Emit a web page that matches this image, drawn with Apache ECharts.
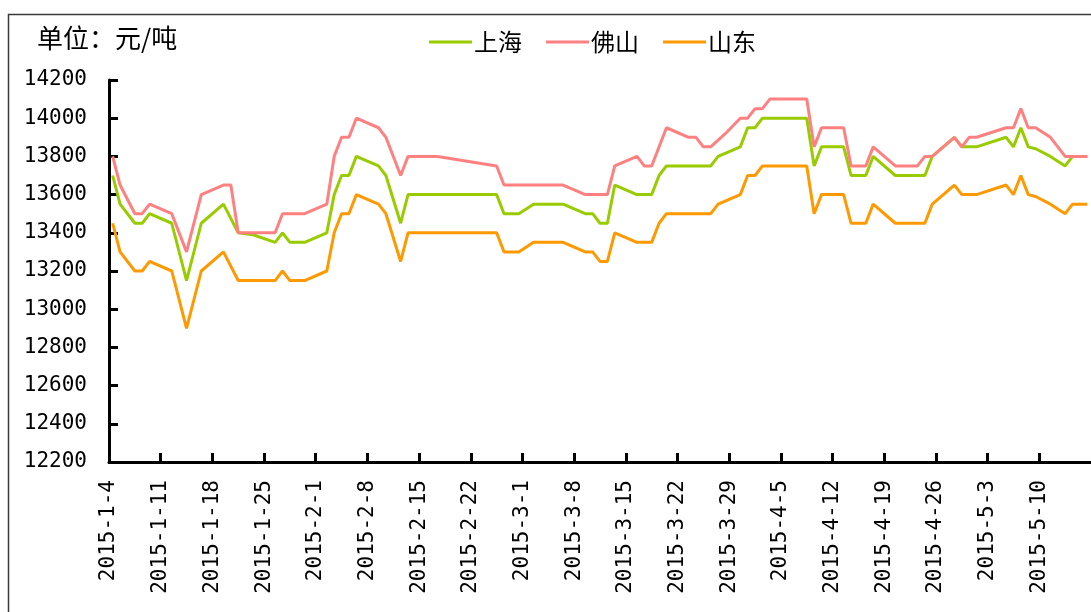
<!DOCTYPE html>
<html>
<head>
<meta charset="utf-8">
<script src="https://cdn.jsdelivr.net/npm/echarts@6/dist/echarts.min.js"></script>
<style>
html,body{margin:0;padding:0;background:#fff;}
#chart{width:1091px;height:612px;}
</style>
</head>
<body>
<div id="chart"></div>
<script>
const seriesNames = ['上海', '佛山', '山东'];
const seriesColors = ['#99CC00', '#FF8080', '#FF9900'];
const unitText = '单位：元/吨';
const yMin = 12200, yMax = 14200, yStep = 200;
const axisStart = '2015-1-4';
const axisEnd = '2015-5-17';

const shanghaiDates = ['2015-1-4','2015-1-5','2015-1-7','2015-1-8','2015-1-9','2015-1-12','2015-1-14','2015-1-16','2015-1-19','2015-1-21',
  '2015-1-23','2015-1-26','2015-1-27','2015-1-28','2015-1-30','2015-2-2','2015-2-3','2015-2-4','2015-2-5','2015-2-6',
  '2015-2-9','2015-2-10','2015-2-12','2015-2-13','2015-2-25','2015-2-26','2015-2-28','2015-3-2','2015-3-6','2015-3-9',
  '2015-3-10','2015-3-11','2015-3-12','2015-3-13','2015-3-16','2015-3-18','2015-3-19','2015-3-20','2015-3-26','2015-3-27',
  '2015-3-30','2015-3-31','2015-4-1','2015-4-2','2015-4-8','2015-4-9','2015-4-10','2015-4-13','2015-4-14','2015-4-16',
  '2015-4-17','2015-4-20','2015-4-24','2015-4-25','2015-4-28','2015-4-29','2015-5-1','2015-5-5','2015-5-6','2015-5-7',
  '2015-5-8','2015-5-9','2015-5-11','2015-5-13','2015-5-14','2015-5-16'];
const shanghaiPrices = [13700,13550,13450,13450,13500,13450,13150,13450,13550,13400,
  13390,13350,13400,13350,13350,13400,13600,13700,13700,13800,
  13750,13700,13450,13600,13600,13500,13500,13550,13550,13500,
  13500,13450,13450,13650,13600,13600,13700,13750,13750,13800,
  13850,13950,13950,14000,14000,13750,13850,13850,13700,13700,
  13800,13700,13700,13800,13900,13850,13850,13900,13850,13950,
  13850,13840,13800,13750,13800,13800];

const foshanDates = ['2015-1-4','2015-1-5','2015-1-7','2015-1-8','2015-1-9','2015-1-12','2015-1-14','2015-1-16','2015-1-19','2015-1-20',
  '2015-1-21','2015-1-26','2015-1-27','2015-1-30','2015-2-2','2015-2-3','2015-2-4','2015-2-5','2015-2-6','2015-2-9',
  '2015-2-10','2015-2-12','2015-2-13','2015-2-17','2015-2-25','2015-2-26','2015-3-6','2015-3-9','2015-3-12','2015-3-13',
  '2015-3-16','2015-3-17','2015-3-18','2015-3-20','2015-3-23','2015-3-24','2015-3-25','2015-3-26','2015-3-28','2015-3-30',
  '2015-3-31','2015-4-1','2015-4-2','2015-4-3','2015-4-8','2015-4-9','2015-4-10','2015-4-13','2015-4-14','2015-4-16',
  '2015-4-17','2015-4-20','2015-4-23','2015-4-24','2015-4-25','2015-4-28','2015-4-29','2015-4-30','2015-5-1','2015-5-5',
  '2015-5-6','2015-5-7','2015-5-8','2015-5-9','2015-5-11','2015-5-13','2015-5-16'];
const foshanPrices = [13800,13650,13500,13500,13550,13500,13300,13600,13650,13650,
  13400,13400,13500,13500,13550,13800,13900,13900,14000,13950,
  13900,13700,13800,13800,13750,13650,13650,13600,13600,13750,
  13800,13750,13750,13950,13900,13900,13850,13850,13920,14000,
  14000,14050,14050,14100,14100,13850,13950,13950,13750,13750,
  13850,13750,13750,13800,13800,13900,13850,13900,13900,13950,
  13950,14050,13950,13950,13900,13800,13800];

const shandongDates = ['2015-1-4','2015-1-5','2015-1-7','2015-1-8','2015-1-9','2015-1-12','2015-1-14','2015-1-16','2015-1-19','2015-1-21',
  '2015-1-26','2015-1-27','2015-1-28','2015-1-30','2015-2-2','2015-2-3','2015-2-4','2015-2-5','2015-2-6','2015-2-9',
  '2015-2-10','2015-2-12','2015-2-13','2015-2-25','2015-2-26','2015-2-28','2015-3-2','2015-3-6','2015-3-9','2015-3-10',
  '2015-3-11','2015-3-12','2015-3-13','2015-3-16','2015-3-18','2015-3-19','2015-3-20','2015-3-26','2015-3-27','2015-3-30',
  '2015-3-31','2015-4-1','2015-4-2','2015-4-8','2015-4-9','2015-4-10','2015-4-13','2015-4-14','2015-4-16','2015-4-17',
  '2015-4-20','2015-4-24','2015-4-25','2015-4-28','2015-4-29','2015-5-1','2015-5-5','2015-5-6','2015-5-7','2015-5-8',
  '2015-5-9','2015-5-11','2015-5-13','2015-5-14','2015-5-16'];
const shandongPrices = [13450,13300,13200,13200,13250,13200,12900,13200,13300,13150,
  13150,13200,13150,13150,13200,13400,13500,13500,13600,13550,
  13500,13250,13400,13400,13300,13300,13350,13350,13300,13300,
  13250,13250,13400,13350,13350,13450,13500,13500,13550,13600,
  13700,13700,13750,13750,13500,13600,13600,13450,13450,13550,
  13450,13450,13550,13650,13600,13600,13650,13600,13700,13600,
  13590,13550,13500,13550,13550];

function parseDay(s) {
  const p = s.split('-').map(Number);
  const t = new Date(p[0], p[1] - 1, p[2]);
  const a = axisStart.split('-').map(Number);
  const t0 = new Date(a[0], a[1] - 1, a[2]);
  return Math.round((t - t0) / 86400000);
}
function dayLabel(d) {
  const a = axisStart.split('-').map(Number);
  const t = new Date(a[0], a[1] - 1, a[2] + Math.round(d));
  return t.getFullYear() + '-' + (t.getMonth() + 1) + '-' + t.getDate();
}
// each daily value is drawn at the middle of its day
function pairs(dates, prices) {
  return dates.map((d, i) => [parseDay(d) + 0.5, prices[i]]);
}
const dateSets = [shanghaiDates, foshanDates, shandongDates];
const priceSets = [shanghaiPrices, foshanPrices, shandongPrices];

const chart = echarts.init(document.getElementById('chart'));
const numFont = 'DejaVu Sans Mono';
const cjkFont = 'Noto Sans CJK SC';

chart.setOption({
  backgroundColor: '#ffffff',
  animation: false,
  graphic: [{
    type: 'rect',
    shape: { x: 8.5, y: 14.5, width: 1200, height: 700 },
    style: { fill: 'none', stroke: '#3a3a3a', lineWidth: 1.5 },
    silent: true, z: 0
  }, {
    type: 'text',
    left: 37, top: 25,
    style: { text: unitText, font: '26px "' + cjkFont + '"', fill: '#000' },
    z: 10
  }],
  legend: {
    left: 424, top: 25,
    icon: 'rect',
    itemWidth: 43, itemHeight: 3,
    itemGap: 24,
    textStyle: { fontFamily: cjkFont, fontSize: 24, color: '#000', padding: [0, 0, 0, -3] },
    data: seriesNames
  },
  grid: { left: 109, right: 0, top: 80, bottom: 150, containLabel: false },
  xAxis: {
    type: 'value',
    min: 0, max: parseDay(axisEnd), interval: 7,
    axisLine: { show: true, lineStyle: { color: '#000', width: 3 } },
    axisTick: { show: true, inside: true, length: 9, lineStyle: { color: '#000', width: 3 } },
    axisLabel: {
      rotate: 90, margin: 18, showMaxLabel: false,
      fontFamily: numFont, fontSize: 21, color: '#000',
      formatter: v => dayLabel(v)
    },
    splitLine: { show: false }
  },
  yAxis: {
    type: 'value',
    min: yMin, max: yMax, interval: yStep,
    axisLine: { show: true, lineStyle: { color: '#000', width: 3 } },
    axisTick: { show: true, inside: true, length: 9, lineStyle: { color: '#000', width: 3 } },
    axisLabel: { margin: 22, fontFamily: numFont, fontSize: 21, color: '#000', formatter: v => String(v) },
    splitLine: { show: false }
  },
  series: seriesNames.map((name, i) => ({
    name: name,
    type: 'line',
    data: pairs(dateSets[i], priceSets[i]),
    showSymbol: false,
    symbol: 'none',
    lineStyle: { color: seriesColors[i], width: 3 },
    itemStyle: { color: seriesColors[i] },
    z: 2 + i
  }))
});
</script>
</body>
</html>
